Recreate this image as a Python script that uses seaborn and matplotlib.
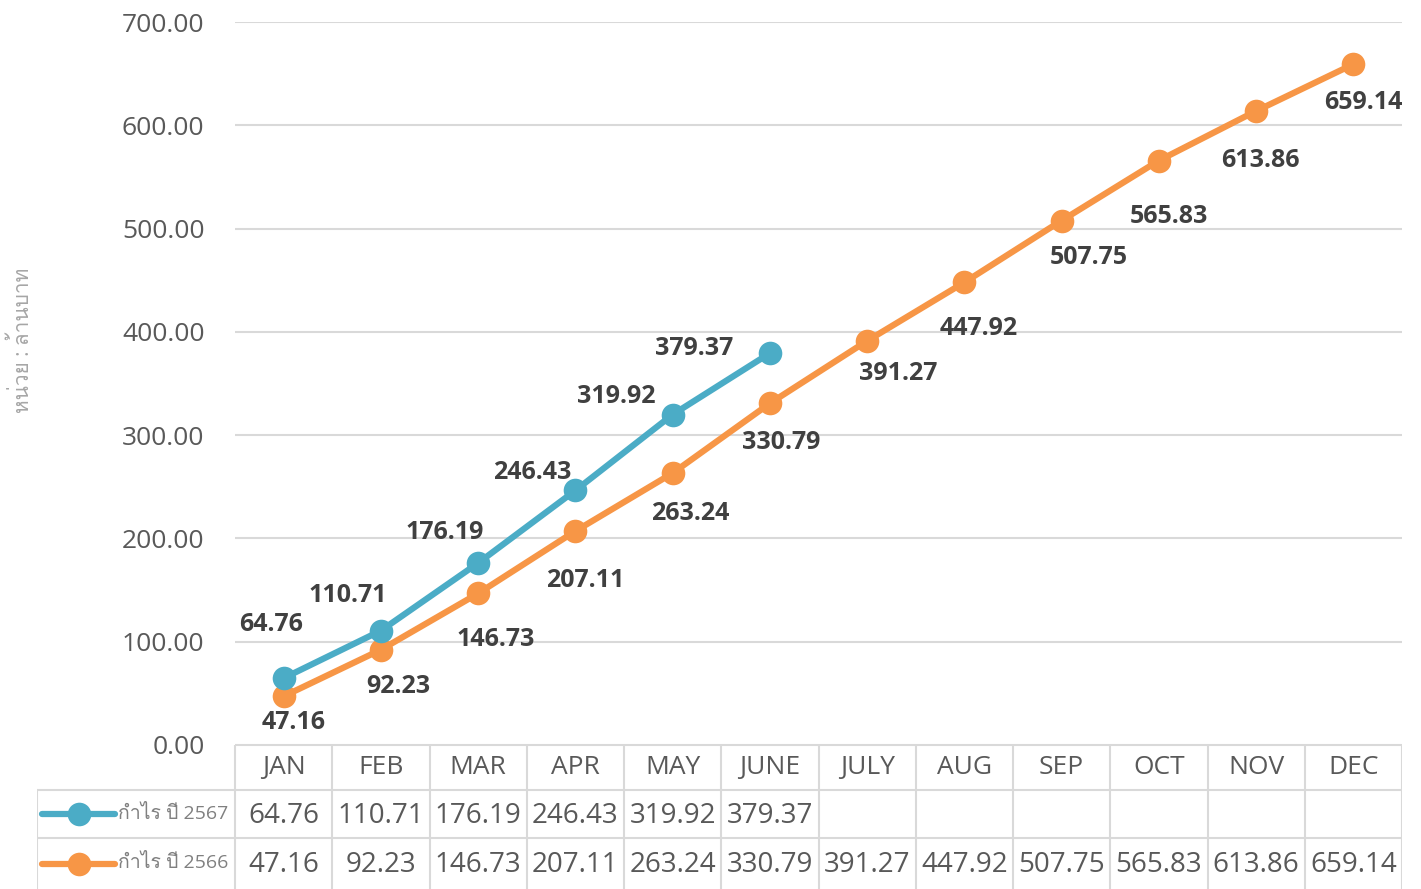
import numpy as np
import pandas as pd
import matplotlib
matplotlib.use('Agg')
import matplotlib.pyplot as plt
import seaborn as sns
from matplotlib import font_manager
from matplotlib.ft2font import FT2Font

months = ['JAN', 'FEB', 'MAR', 'APR', 'MAY', 'JUNE', 'JULY', 'AUG', 'SEP',
          'OCT', 'NOV', 'DEC']
profit_2567 = [64.76, 110.71, 176.19, 246.43, 319.92, 379.37]
profit_2566 = [47.16, 92.23, 146.73, 207.11, 263.24, 330.79, 391.27, 447.92,
               507.75, 565.83, 613.86, 659.14]
name_2567 = 'กำไร ปี 2567'
name_2566 = 'กำไร ปี 2566'
y_label = 'หน่วย : ล้านบาท'
y_ticks = [0, 100, 200, 300, 400, 500, 600, 700]

blue = '#4bacc6'
orange = '#f79646'

# label offsets in pixels (dx, dy)
off_2567 = [(-13, 54), (-33, 35), (-33, 31), (-43, 18), (-56, 18), (-76, 5)]
off_2566 = [(10, -26), (17, -37), (18, -46), (10, -49), (18, -40), (11, -39),
            (31, -33), (14, -46), (27, -37), (10, -56), (4, -50), (10, -38)]


def find_thai_font():
    # look for an installed font that has thai glyphs
    for f in font_manager.fontManager.ttflist:
        try:
            ft = FT2Font(f.fname)
            if ft.get_char_index(0x0E01) != 0 and ft.get_char_index(0x0E33) != 0:
                return f.name
        except Exception:
            pass
    return None


sns.set_theme(style='white')
thai = find_thai_font()
fams = ['Open Sans', 'DejaVu Sans']
if thai:
    fams = ['Open Sans', thai, 'DejaVu Sans']
plt.rcParams['font.family'] = fams

W, H = 1421, 889
fig = plt.figure(figsize=(W / 100, H / 100), dpi=100)
fig.patch.set_facecolor('white')

left_px, right_px, top_px, bot_px = 235, 1402, 22, 745
ax = fig.add_axes([left_px / W, 1 - bot_px / H, (right_px - left_px) / W,
                   (bot_px - top_px) / H])

n = len(months)
df = pd.DataFrame({
    'idx': list(range(n)) * 2,
    'value': profit_2566 + profit_2567 + [np.nan] * (n - len(profit_2567)),
    'series': [name_2566] * n + [name_2567] * n,
})
df = df.dropna()

sns.lineplot(data=df, x='idx', y='value', hue='series',
             palette={name_2566: orange, name_2567: blue},
             hue_order=[name_2566, name_2567], marker='o', markersize=17,
             linewidth=4.5, markeredgewidth=0, legend=False, ax=ax)

for i, v in enumerate(profit_2567):
    ax.annotate(f'{v:.2f}', (i, v), xytext=off_2567[i],
                textcoords='offset pixels', ha='center', va='center',
                fontsize=18, fontweight='bold', color='#404040')
for i, v in enumerate(profit_2566):
    ax.annotate(f'{v:.2f}', (i, v), xytext=off_2566[i],
                textcoords='offset pixels', ha='center', va='center',
                fontsize=18, fontweight='bold', color='#404040')

ax.set_xlim(-0.5, n - 0.5)
ax.set_ylim(0, 700)
ax.set_yticks(y_ticks)
ax.set_yticklabels([f'{t:.2f}' for t in y_ticks], fontsize=19, color='#595959')
ax.set_xticks([])
ax.set_xlabel('')
ax.set_ylabel(y_label, fontsize=15, color='#a6a6a6')
ax.yaxis.set_label_coords(-0.172, 0.56)
ax.tick_params(axis='y', length=0, pad=22)
ax.grid(axis='y', color='#d9d9d9', linewidth=1.5)
ax.set_axisbelow(True)
for s in ax.spines.values():
    s.set_visible(False)
ax.patch.set_alpha(0)

# data table underneath
tab_left = 37
unit = (right_px - left_px) / n
ax_t = fig.add_axes([tab_left / W, 0, (right_px - tab_left) / W,
                     (H - bot_px) / H])
x0 = -0.5 - (left_px - tab_left) / unit
ax_t.set_xlim(x0, n - 0.5)
ax_t.set_ylim(H - bot_px, 0)
ax_t.axis('off')
rows = [0, 45, 93, H - bot_px]
gc = '#d9d9d9'
ax_t.plot([-0.5, n - 0.5], [rows[0], rows[0]], color=gc, lw=1.5)
for r in rows[1:3]:
    ax_t.plot([x0, n - 0.5], [r, r], color=gc, lw=1.5)
for k in range(n + 1):
    ax_t.plot([k - 0.5, k - 0.5], [rows[0], rows[3]], color=gc, lw=1.5)
ax_t.plot([x0, x0], [rows[1], rows[3]], color=gc, lw=1.5)

for i, m in enumerate(months):
    ax_t.text(i, (rows[0] + rows[1]) / 2, m, ha='center', va='center',
              fontsize=19, color='#595959')
for i, v in enumerate(profit_2567):
    ax_t.text(i, (rows[1] + rows[2]) / 2 + 2, f'{v:.2f}', ha='center',
              va='center', fontsize=20, color='#595959')
for i, v in enumerate(profit_2566):
    ax_t.text(i, (rows[2] + rows[3]) / 2 + 2, f'{v:.2f}', ha='center',
              va='center', fontsize=20, color='#595959')

# legend keys inside table
for r0, r1, c, name in [(rows[1], rows[2], blue, name_2567),
                        (rows[2], rows[3], orange, name_2566)]:
    yc = (r0 + r1) / 2
    ax_t.plot([x0 + 0.05, x0 + 0.8], [yc, yc], color=c, lw=4.5,
              solid_capstyle='round')
    ax_t.plot([x0 + 0.43], [yc], 'o', color=c, markersize=17,
              markeredgewidth=0)
    ax_t.text(x0 + 0.83, yc, name, ha='left', va='center', fontsize=14,
              color='#808080')

fig.savefig('out.png', dpi=100, facecolor='white')
